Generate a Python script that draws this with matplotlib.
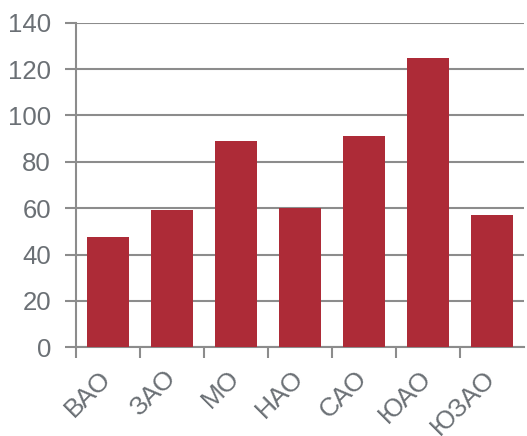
import numpy as np
import matplotlib.pyplot as plt
import matplotlib.transforms as mtransforms

# Округа и значения
okruga = ['ВАО', 'ЗАО', 'МО', 'НАО', 'САО', 'ЮАО', 'ЮЗАО']
znacheniya = [47.7, 59.3, 88.9, 60.2, 91.0, 124.9, 56.9]
y_ticks = [0, 20, 40, 60, 80, 100, 120, 140]

bar_color = '#ad2b37'
text_color = '#6b7075'
line_color = '#8c8c8c'

plt.rcParams['font.family'] = ['Liberation Sans', 'DejaVu Sans']

fig = plt.figure(figsize=(5.27, 4.36), dpi=100)
ax = fig.add_axes([76 / 527, 1 - 347.3 / 436, 448 / 527, (347.3 - 22.7) / 436])

x = np.arange(len(okruga))
ax.bar(x, znacheniya, width=0.67, color=bar_color, zorder=3)

ax.set_xlim(-0.5, len(okruga) - 0.5)
ax.set_ylim(0, 140)
ax.set_yticks(y_ticks)
ax.set_yticklabels([str(v) for v in y_ticks], fontsize=18.5, color=text_color)
ax.yaxis.grid(True, color=line_color, linewidth=1.5, zorder=0)

ax.set_xticks(x)
ax.set_xticklabels(okruga, rotation=45, ha='right', va='top',
                   fontsize=19, color=text_color)
ax.tick_params(axis='x', length=0, pad=13.5)
# подписи чуть правее центра категории
shift = mtransforms.ScaledTranslation(8 / 100, 0, fig.dpi_scale_trans)
for lbl in ax.get_xticklabels():
    lbl.set_transform(lbl.get_transform() + shift)
ax.set_xticks(np.arange(len(okruga)) - 0.5, minor=True)
ax.tick_params(axis='x', which='minor', length=8, width=1.5, color=line_color)
ax.tick_params(axis='y', length=8, width=1.5, color=line_color, pad=10)

for side in ['top', 'right']:
    ax.spines[side].set_visible(False)
for side in ['left', 'bottom']:
    ax.spines[side].set_color(line_color)
    ax.spines[side].set_linewidth(1.5)

fig.savefig('out.png', dpi=100)
